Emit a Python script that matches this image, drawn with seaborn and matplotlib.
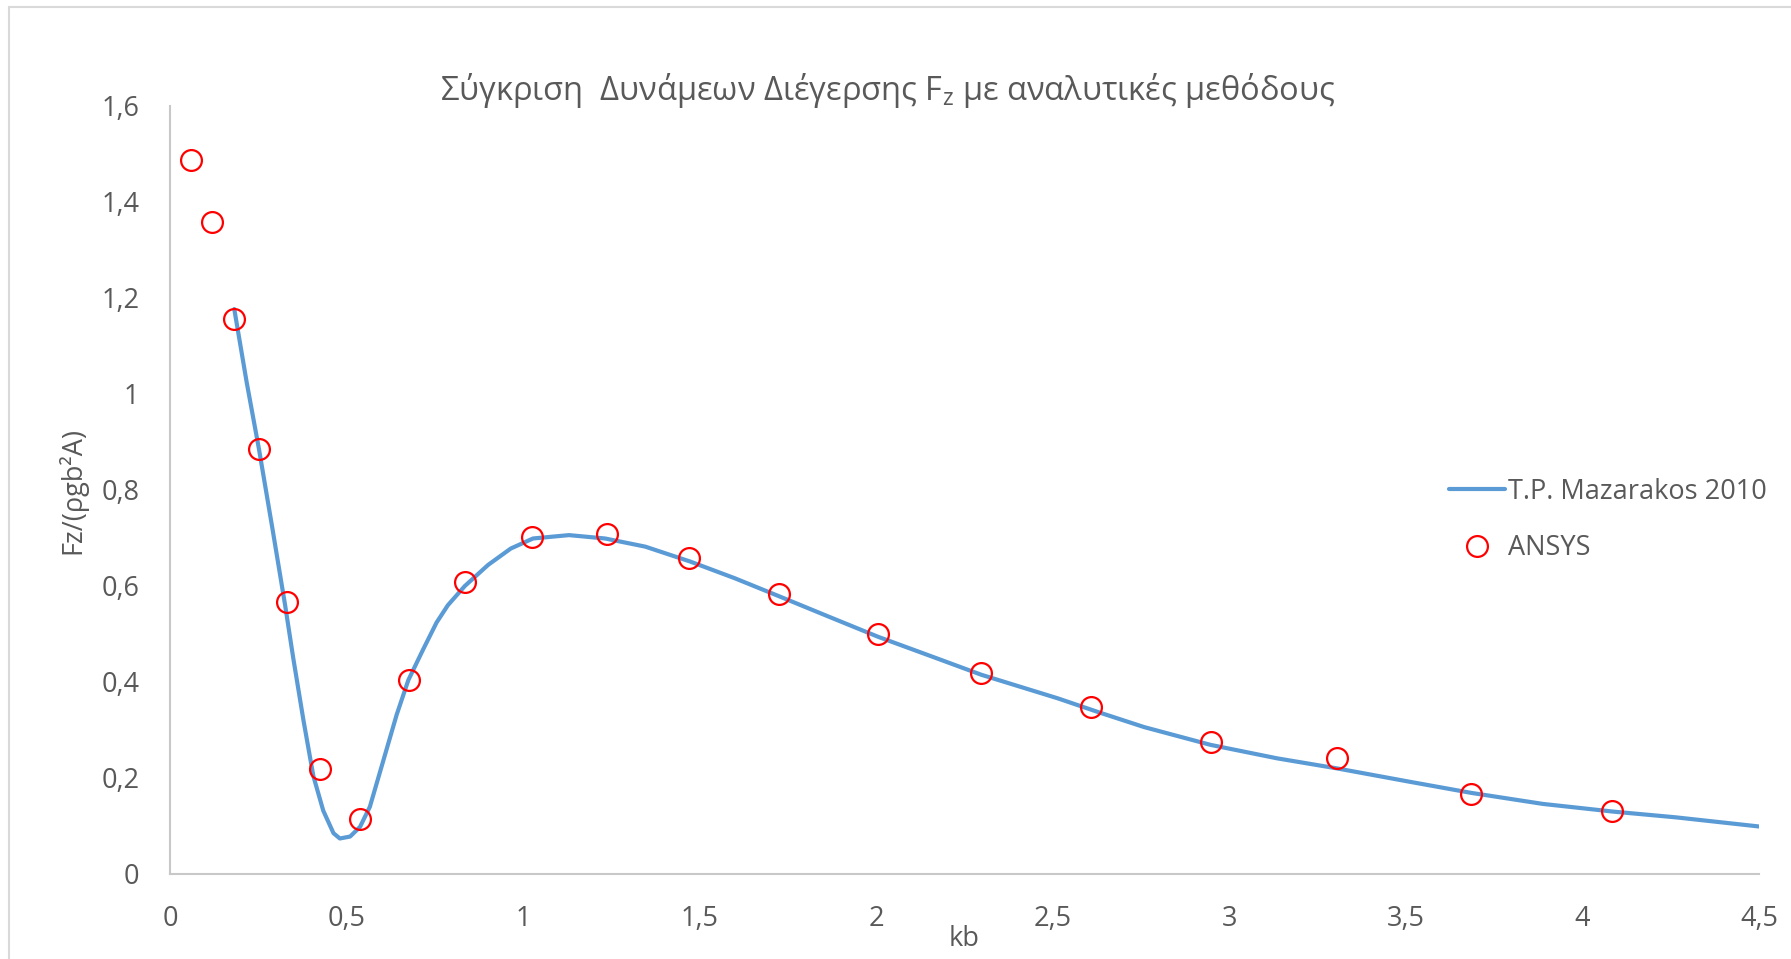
import matplotlib
matplotlib.use("Agg")
import matplotlib.pyplot as plt
import seaborn as sns
import pandas as pd
from matplotlib.lines import Line2D

# ---- data ----
curve_kb = [0.182, 0.217, 0.252, 0.290, 0.326, 0.349, 0.378, 0.406, 0.434, 0.463,
            0.481, 0.510, 0.538, 0.566, 0.604, 0.642, 0.675, 0.717, 0.755, 0.787,
            0.835, 0.901, 0.965, 1.028, 1.130, 1.232, 1.346, 1.473, 1.600, 1.727,
            1.866, 2.006, 2.158, 2.298, 2.514, 2.634, 2.759, 2.947, 3.135, 3.305,
            3.512, 3.685, 3.888, 4.087, 4.265, 4.500]
curve_fz = [1.177, 1.025, 0.885, 0.720, 0.560, 0.450, 0.320, 0.204, 0.132, 0.085,
            0.074, 0.078, 0.098, 0.140, 0.236, 0.332, 0.404, 0.468, 0.524, 0.560,
            0.600, 0.644, 0.678, 0.699, 0.706, 0.699, 0.682, 0.651, 0.616, 0.578,
            0.536, 0.494, 0.453, 0.415, 0.366, 0.336, 0.306, 0.269, 0.241, 0.220,
            0.192, 0.169, 0.146, 0.130, 0.118, 0.099]

ansys_kb = [0.059, 0.118, 0.182, 0.252, 0.332, 0.425, 0.538, 0.676, 0.835, 1.025,
            1.238, 1.470, 1.724, 2.004, 2.298, 2.608, 2.947, 3.306, 3.685, 4.084]
ansys_fz = [1.488, 1.359, 1.156, 0.886, 0.566, 0.218, 0.115, 0.404, 0.609, 0.703,
            0.708, 0.659, 0.583, 0.500, 0.419, 0.348, 0.276, 0.241, 0.166, 0.132]

x_ticks = [0, 0.5, 1, 1.5, 2, 2.5, 3, 3.5, 4, 4.5]
x_tick_labels = ["0", "0,5", "1", "1,5", "2", "2,5", "3", "3,5", "4", "4,5"]
y_ticks = [0, 0.2, 0.4, 0.6, 0.8, 1.0, 1.2, 1.4, 1.6]
y_tick_labels = ["0", "0,2", "0,4", "0,6", "0,8", "1", "1,2", "1,4", "1,6"]

title = "Σύγκριση  Δυνάμεων Διέγερσης F$_{z}$ με αναλυτικές μεθόδους"
xlabel = "kb"
ylabel = "Fz/(ρgb²A)"
label_curve = "T.P. Mazarakos 2010"
label_ansys = "ANSYS"

# ---- style ----
sns.set_theme(style="white")
plt.rcParams["font.family"] = ["Open Sans", "Noto Sans", "DejaVu Sans"]
plt.rcParams["mathtext.default"] = "regular"
TXT = "#595959"
AX = "#C8C8C8"
FS = 19.5

W, H = 1791, 959
fig = plt.figure(figsize=(W / 100, H / 100), dpi=100)
ax_w, ax_h = (1759 - 170), (874 - 106)
ax = fig.add_axes([170 / W, 1 - 874 / H, ax_w / W, ax_h / H])

df_curve = pd.DataFrame({"kb": curve_kb, "fz": curve_fz})
df_ansys = pd.DataFrame({"kb": ansys_kb, "fz": ansys_fz})

sns.lineplot(data=df_curve, x="kb", y="fz", ax=ax, color="#5B9BD5", linewidth=3.0,
             sort=False, legend=False, solid_capstyle="round", solid_joinstyle="round")
sns.lineplot(data=df_ansys, x="kb", y="fz", ax=ax, linestyle="", marker="o",
             markersize=15, markerfacecolor="none", markeredgecolor="#FF0000",
             markeredgewidth=1.6, sort=False, legend=False)

ax.set_xlim(0, 4.5)
ax.set_ylim(0, 1.6)
ax.set_xticks(x_ticks)
ax.set_xticklabels(x_tick_labels)
ax.set_yticks(y_ticks)
ax.set_yticklabels(y_tick_labels)
ax.tick_params(axis="both", length=0, labelsize=FS, colors=TXT)
ax.tick_params(axis="x", pad=22)
ax.tick_params(axis="y", pad=22)
ax.grid(False)
for s in ["top", "right"]:
    ax.spines[s].set_visible(False)
for s in ["left", "bottom"]:
    ax.spines[s].set_color(AX)
    ax.spines[s].set_linewidth(1.5)

ax.set_xlabel(xlabel, fontsize=FS, color=TXT)
ax.xaxis.label.set_va("center")
ax.xaxis.set_label_coords(0.5, -(939 - 874) / ax_h)
ax.set_ylabel(ylabel, fontsize=FS, color=TXT)
ax.yaxis.label.set_va("center")
ax.yaxis.set_label_coords(-(170 - 72) / ax_w, 0.5)

fig.text(888 / W, 1 - 91 / H, title, ha="center", va="center",
         fontsize=23.5, color=TXT)

handles = [
    Line2D([0], [0], color="#5B9BD5", linewidth=3.0),
    Line2D([0], [0], linestyle="", marker="o", markersize=15, markerfacecolor="none",
           markeredgecolor="#FF0000", markeredgewidth=1.6),
]
leg = fig.legend(handles, [label_curve, label_ansys], loc="center left",
                 bbox_to_anchor=(1425 / W, 1 - 520 / H), frameon=False,
                 fontsize=FS, labelcolor=TXT, handlelength=2.05, handletextpad=0.1,
                 labelspacing=1.05)

# outer chart border
fig.add_artist(Line2D([9 / W, 9 / W], [0, 1 - 7 / H], transform=fig.transFigure,
                      color="#D9D9D9", linewidth=1.5))
fig.add_artist(Line2D([9 / W, 1], [1 - 7 / H, 1 - 7 / H], transform=fig.transFigure,
                      color="#D9D9D9", linewidth=1.5))

fig.savefig("out.png", dpi=100, facecolor="white")
